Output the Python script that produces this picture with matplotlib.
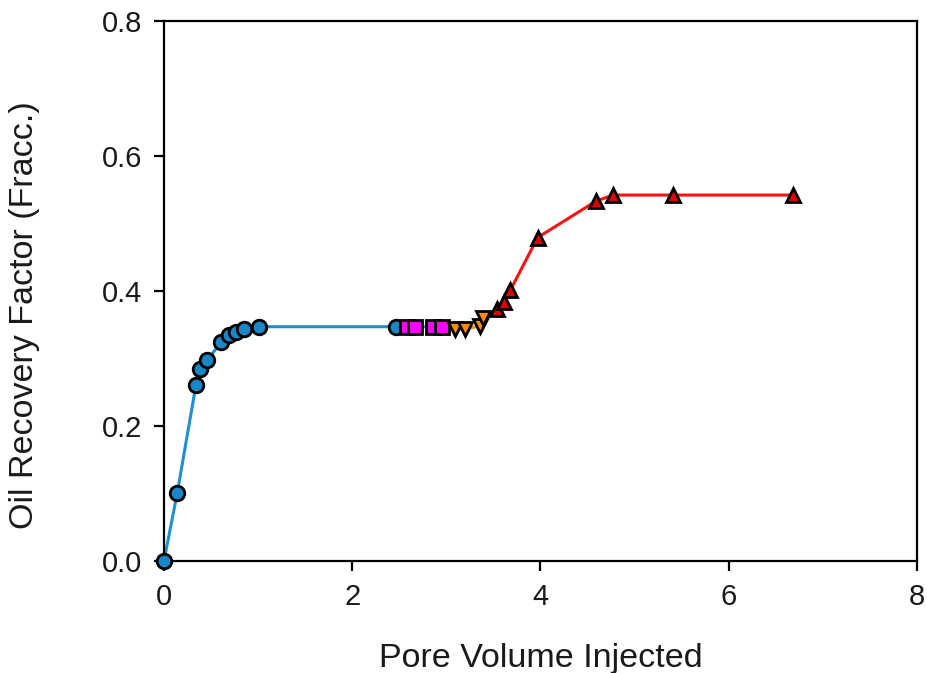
import matplotlib.pyplot as plt

plt.rcParams['font.family'] = ['Liberation Sans', 'DejaVu Sans']

# Stage 1 - blue circles
pv_blue = [0.0, 0.14, 0.34, 0.38, 0.46, 0.61, 0.69, 0.77, 0.85, 1.01, 2.47]
rf_blue = [0.0, 0.100, 0.261, 0.284, 0.298, 0.324, 0.335, 0.339, 0.344, 0.347, 0.347]

# Stage 2 - magenta squares
pv_mag = [2.58, 2.67, 2.86, 2.95]
rf_mag = [0.347, 0.347, 0.347, 0.347]

# Stage 3 - orange down triangles
pv_orange = [3.09, 3.20, 3.36, 3.39]
rf_orange = [0.344, 0.344, 0.348, 0.360]

# Stage 4 - red up triangles
pv_red = [3.54, 3.61, 3.68, 3.97, 4.59, 4.77, 5.41, 6.68]
rf_red = [0.373, 0.384, 0.401, 0.479, 0.533, 0.542, 0.542, 0.542]

fig = plt.figure(figsize=(9.28, 6.73), dpi=100)
ax = fig.add_axes([0.1767, 0.1664, 0.8113, 0.8026])

ms = 10.5
mew = 2
ax.plot(pv_blue + [pv_mag[0]], rf_blue + [rf_mag[0]], '-', color='#1f8fd0', lw=2.2, zorder=2)
ax.plot(pv_blue, rf_blue, 'o', ms=ms, mfc='#1b86c6', mec='black', mew=mew, zorder=5)
ax.plot(pv_mag + [pv_orange[0]], rf_mag + [rf_orange[0]], '-', color='#2aa0a8', lw=2.2, zorder=2)
ax.plot(pv_mag, rf_mag, 's', ms=ms - 1, mfc='#ff00ff', mec='black', mew=mew, zorder=5)
ax.plot(pv_orange + [pv_red[0]], rf_orange + [rf_red[0]], '-', color='#ff8c00', lw=2.2, zorder=2)
ax.plot(pv_orange, rf_orange, 'v', ms=ms, mfc='#ff8c00', mec='black', mew=mew, zorder=5)
ax.plot(pv_red, rf_red, '-', color='#ff1010', lw=2.2, zorder=2)
ax.plot(pv_red, rf_red, '^', ms=ms, mfc='#e00000', mec='black', mew=mew, zorder=5)

ax.set_xlim(0, 8)
ax.set_ylim(0, 0.8)
ax.set_xticks([0, 2, 4, 6, 8])
ax.set_yticks([0.0, 0.2, 0.4, 0.6, 0.8])
ax.set_yticklabels(['0.0', '0.2', '0.4', '0.6', '0.8'])
ax.tick_params(direction='out', length=7, width=1.6, labelsize=21, pad=9,
               top=False, right=False, labelcolor='#1a1a1a')
for s in ax.spines.values():
    s.set_linewidth(1.6)

ax.set_xlabel('Pore Volume Injected', fontsize=24.5, labelpad=23, color='#1a1a1a')
ax.set_ylabel('Oil Recovery Factor (Fracc.)', fontsize=24.5, color='#1a1a1a')
ax.yaxis.set_label_coords(-0.165, 0.455)

for line in ax.lines:
    line.set_clip_on(False)

fig.savefig('out.png', dpi=100)
